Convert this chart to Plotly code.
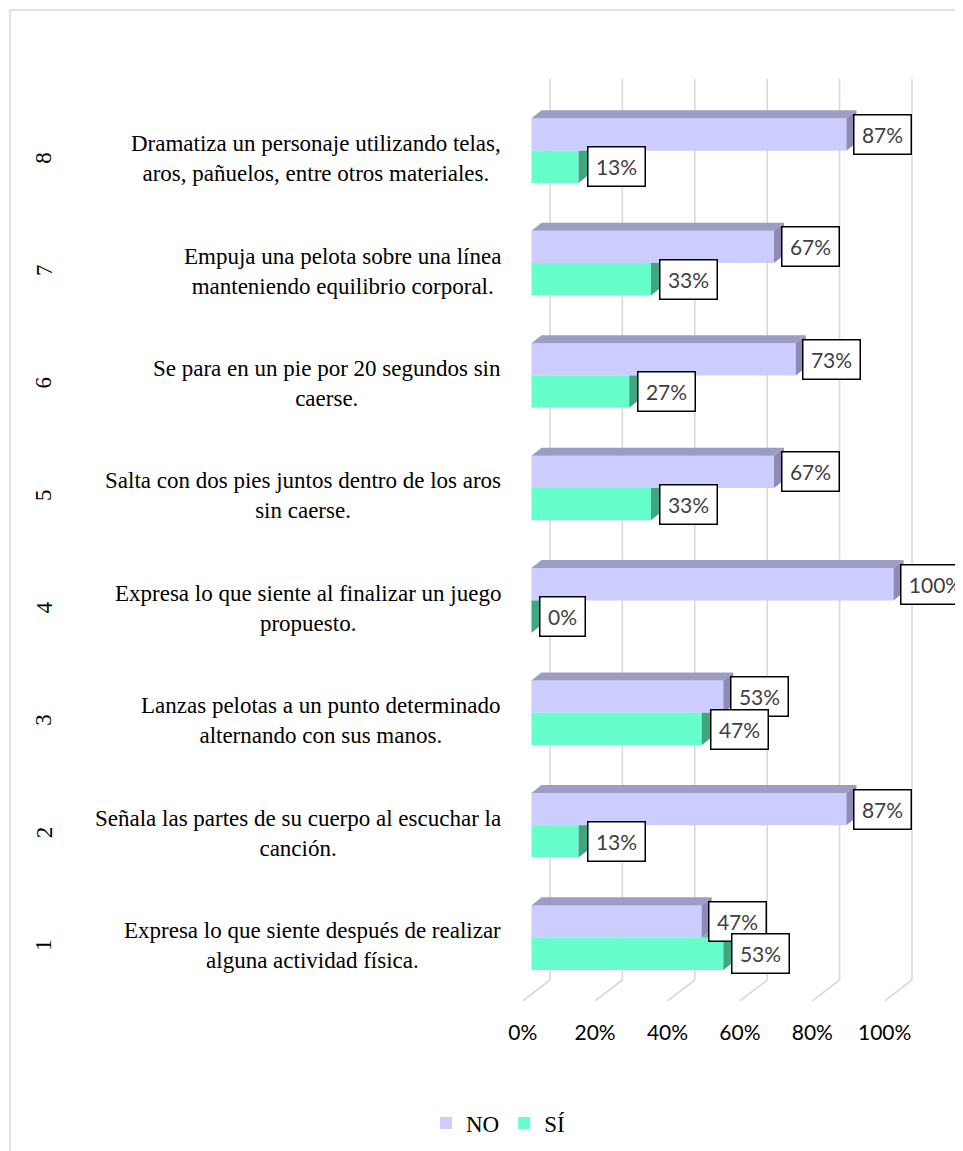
import plotly.graph_objects as go

# ---------------- data ----------------
categories = [1, 2, 3, 4, 5, 6, 7, 8]
cat_labels = [
    "Expresa lo que siente después de realizar<br>alguna actividad física.",
    "Señala las partes de su cuerpo al escuchar la<br>canción.",
    "Lanzas pelotas a un punto determinado<br>alternando con sus manos.",
    "Expresa lo que siente al finalizar un juego<br>propuesto.",
    "Salta con dos pies juntos dentro de los aros<br>sin caerse.",
    "Se para en un pie por 20 segundos sin<br>caerse.",
    "Empuja una pelota sobre una línea<br>manteniendo equilibrio corporal.",
    "Dramatiza un personaje utilizando telas,<br>aros, pañuelos, entre otros materiales.",
]
no_values = [47, 87, 53, 100, 67, 73, 67, 87]
si_values = [53, 13, 47, 0, 33, 27, 33, 13]
tick_values = [0, 20, 40, 60, 80, 100]
tick_labels = ["0%", "20%", "40%", "60%", "80%", "100%"]

# ---------------- style / geometry ----------------
W, H = 955, 1143
NO_FRONT, NO_TOP, NO_SIDE = "#CCCCFF", "#9D9DC4", "#8B8BB6"
SI_FRONT, SI_SIDE = "#66FFCC", "#3FA67F"
GRID = "#D9D9D9"
SERIF = "Liberation Serif"
SANS = "Lato"

BAR_H = 0.2875      # bar thickness (category units)
DX, DY = 2.76, 0.0712   # 3D depth of bars (value units, category units)
WALL_DX = 5.11      # back wall offset
FLOOR_DX = -2.43    # front floor offset
Y_TOP, Y_BACK_FLOOR = 8.6377, 0.6238
Y_RANGE = [0.4370, 8.8066]
X_RANGE = [-8.70, 119.20]

fig = go.Figure()

# front faces (bars)
fig.add_trace(go.Bar(
    name="NO", y=categories, x=no_values, orientation="h",
    offset=0, width=BAR_H, marker=dict(color=NO_FRONT, line=dict(width=0)),
    hoverinfo="x+name"))
fig.add_trace(go.Bar(
    name="SÍ", y=categories, x=si_values, orientation="h",
    offset=-BAR_H, width=BAR_H, marker=dict(color=SI_FRONT, line=dict(width=0)),
    hoverinfo="x+name"))


def poly_trace(polys, color):
    xs, ys = [], []
    for p in polys:
        for (a, b) in p:
            xs.append(a)
            ys.append(b)
        xs.append(p[0][0]); ys.append(p[0][1])
        xs.append(None); ys.append(None)
    return go.Scatter(x=xs, y=ys, mode="lines", fill="toself", fillcolor=color,
                      line=dict(width=0, color=color), hoverinfo="skip",
                      showlegend=False)


no_top, no_side, si_side, si_top = [], [], [], []
for k, vn, vs in zip(categories, no_values, si_values):
    no_top.append([(0, k + BAR_H), (vn, k + BAR_H), (vn + DX, k + BAR_H + DY), (DX, k + BAR_H + DY)])
    no_side.append([(vn, k), (vn + DX, k + DY), (vn + DX, k + BAR_H + DY), (vn, k + BAR_H)])
    top = k + DY if vs > vn else k
    si_side.append([(vs, k - BAR_H), (vs + DX, k - BAR_H + DY), (vs + DX, top), (vs, k)])
    if vs > vn:
        si_top.append([(vn, k), (vs, k), (vs + DX, k + DY), (vn + DX, k + DY)])

fig.add_trace(poly_trace(si_side, SI_SIDE))
if si_top:
    fig.add_trace(poly_trace(si_top, "#52CCA3"))
fig.add_trace(poly_trace(no_top, NO_TOP))
fig.add_trace(poly_trace(no_side, NO_SIDE))

# back wall gridlines and floor lines
shapes = []
for t in tick_values:
    xb = t + WALL_DX
    shapes.append(dict(type="line", xref="x", yref="y", x0=xb, x1=xb, y0=Y_BACK_FLOOR, y1=Y_TOP,
                       line=dict(color=GRID, width=1.6), layer="below"))
    shapes.append(dict(type="line", xref="x", yref="y", x0=xb, x1=t + FLOOR_DX,
                       y0=Y_BACK_FLOOR, y1=Y_RANGE[0],
                       line=dict(color=GRID, width=1.6), layer="below"))
# chart area border
shapes.append(dict(type="rect", xref="paper", yref="paper", x0=2 / W, x1=1.02,
                   y0=-0.02, y1=1 - 2 / H, line=dict(color=GRID, width=1.5),
                   fillcolor="rgba(0,0,0,0)", layer="below"))

annotations = []
# category labels and level numbers
for k, lab in zip(categories, cat_labels):
    annotations.append(dict(xref="paper", yref="y", x=495 / W, y=k, yshift=-8,
                            text=lab, showarrow=False, xanchor="right", yanchor="middle",
                            align="center", font=dict(family=SERIF, size=23, color="black")))
    annotations.append(dict(xref="paper", yref="y", x=36 / W, y=k, yshift=-7,
                            text=str(k), showarrow=False, xanchor="center", yanchor="middle",
                            textangle=-90, font=dict(family=SERIF, size=23, color="black")))


def label_box(x, y, txt, shift):
    return dict(xref="x", yref="y", x=x, y=y, xshift=shift, text=txt, showarrow=False,
                xanchor="left", yanchor="middle", align="center",
                width=16 + 12 * len(txt), height=34,
                bgcolor="white", bordercolor="black", borderwidth=1.5, borderpad=2,
                font=dict(family=SANS, size=21, color="#404040"))


for k, vn, vs in zip(categories, no_values, si_values):
    annotations.append(label_box(vn, k + BAR_H / 2, f"{vn}%", 6.5))
    annotations.append(label_box(vs, k - BAR_H / 2, f"{vs}%", 8))

fig.update_layout(
    width=W, height=H,
    margin=dict(l=0, r=0, t=0, b=0),
    paper_bgcolor="white", plot_bgcolor="white",
    barmode="overlay",
    showlegend=True,
    legend=dict(orientation="h", x=490 / W, xanchor="center", y=1 - 1115 / H,
                yanchor="middle", font=dict(family=SERIF, size=23, color="black"),
                bgcolor="rgba(0,0,0,0)"),
    xaxis=dict(domain=[492 / W, 1.0], range=X_RANGE, showgrid=False, zeroline=False,
               showline=False, ticks="",
               tickvals=[t + FLOOR_DX for t in tick_values], ticktext=tick_labels,
               tickfont=dict(family=SANS, size=21, color="black"),
               ticklabelstandoff=17),
    yaxis=dict(domain=[1 - 993 / H, 1 - 52 / H], range=Y_RANGE, showgrid=False,
               zeroline=False, showline=False, showticklabels=False, ticks=""),
    shapes=shapes,
    annotations=annotations,
)

fig.write_html("out.html")
